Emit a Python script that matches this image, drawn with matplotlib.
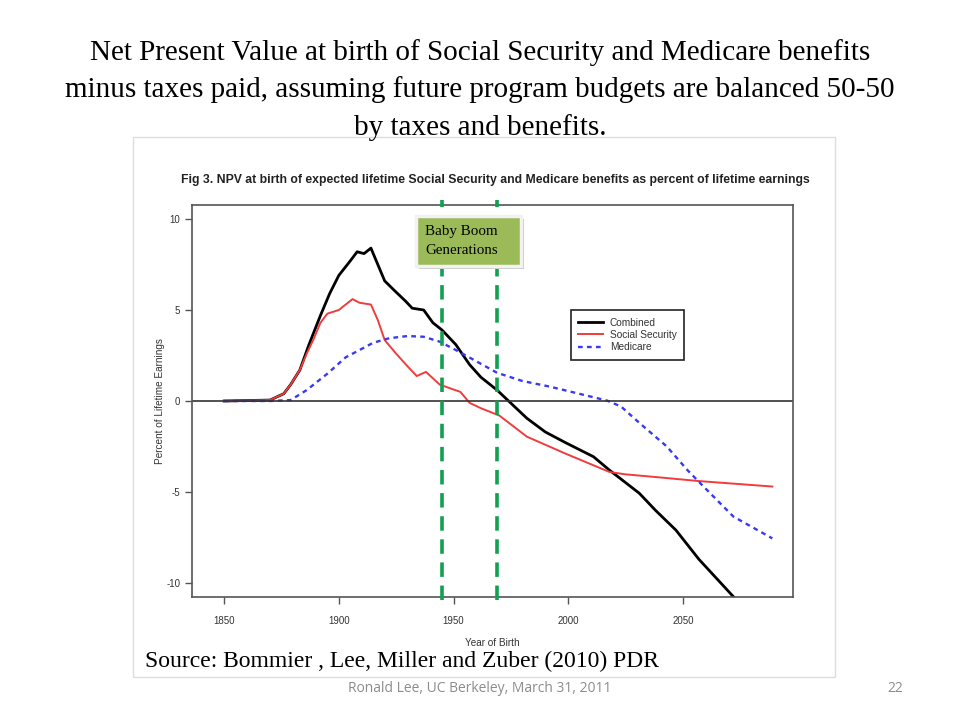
import matplotlib.pyplot as plt
from matplotlib.patches import Rectangle

plt.rcParams['axes.unicode_minus'] = False

# -------- Data --------
combined_years = [1850, 1870, 1876, 1879, 1883, 1887, 1892, 1896, 1900, 1905, 1908, 1911,
                  1914, 1917, 1920, 1924, 1929, 1932, 1937, 1941, 1945, 1951, 1957, 1962,
                  1969, 1974, 1982, 1990, 1999, 2011, 2018, 2031, 2038, 2047, 2057, 2072]
combined_vals = [0.0, 0.05, 0.4, 0.9, 1.7, 3.1, 4.7, 5.9, 6.9, 7.7, 8.2, 8.1,
                 8.4, 7.5, 6.6, 6.1, 5.5, 5.1, 5.0, 4.3, 3.9, 3.1, 2.0, 1.3,
                 0.6, 0.0, -0.95, -1.7, -2.3, -3.06, -3.8, -5.07, -6.0, -7.1, -8.7, -10.75]

ss_years = [1850, 1870, 1876, 1879, 1883, 1886, 1889, 1892, 1895, 1900, 1906, 1909, 1914,
            1917, 1920, 1925, 1930, 1934, 1938, 1944, 1953, 1957, 1962, 1970, 1982,
            1999, 2018, 2025, 2040, 2057, 2089]
ss_vals = [0.0, 0.05, 0.4, 0.9, 1.7, 2.6, 3.4, 4.3, 4.8, 5.0, 5.6, 5.4, 5.3,
           4.45, 3.35, 2.6, 1.9, 1.37, 1.6, 0.9, 0.5, -0.1, -0.4, -0.8, -1.96,
           -2.9, -3.9, -4.03, -4.2, -4.4, -4.7]

med_years = [1850, 1870, 1879, 1886, 1895, 1903, 1915, 1922, 1930, 1937, 1944, 1951,
             1959, 1969, 1980, 1992, 2007, 2017, 2023, 2031, 2043, 2052, 2059, 2072, 2089]
med_vals = [0.0, 0.0, 0.05, 0.6, 1.5, 2.4, 3.2, 3.45, 3.57, 3.53, 3.26, 2.8,
            2.25, 1.55, 1.1, 0.79, 0.33, 0.02, -0.3, -1.2, -2.5, -3.8, -4.7, -6.35, -7.55]

boom_years = [1945, 1969]

x_ticks = [1850, 1900, 1950, 2000, 2050]
y_ticks = [-10, -5, 0, 5, 10]

# -------- Figure --------
fig = plt.figure(figsize=(9.6, 7.2), dpi=100)
fig.patch.set_facecolor('white')

# slide title
fig.text(0.5, 1 - 90 / 720, "Net Present Value at birth of Social Security and Medicare benefits\n"
         "minus taxes paid, assuming future program budgets are balanced 50-50\n"
         "by taxes and benefits.",
         ha='center', va='center', family='Liberation Serif', fontsize=21,
         linespacing=1.5)

# border of the pasted chart image
fig.patches.append(Rectangle((133 / 960, 1 - 677 / 720), 702 / 960, 540 / 720,
                             transform=fig.transFigure, fill=False,
                             edgecolor='#dddddd', linewidth=1))

fig.text(495 / 960, 1 - 180 / 720,
         "Fig 3. NPV at birth of expected lifetime Social Security and Medicare benefits as percent of lifetime earnings",
         ha='center', va='center', fontsize=8.8, fontweight='bold', family='Liberation Sans',
         color='#222222')

ax = fig.add_axes([192 / 960, 1 - 597 / 720, 601 / 960, 392 / 720])
ax.plot(combined_years, combined_vals, color='black', lw=2, label='Combined')
ax.plot(ss_years, ss_vals, color='#f03c3c', lw=1.4, label='Social Security')
ax.plot(med_years, med_vals, color='#3a3af0', lw=1.7, linestyle=(0, (2, 1.8)), label='Medicare')
ax.axhline(0, color='#333333', lw=1.2)

ax.set_xlim(1836, 2098)
ax.set_ylim(-10.77, 10.77)
ax.set_xticks(x_ticks)
ax.set_yticks(y_ticks)
ax.tick_params(labelsize=7, labelcolor='#333333', color='#555555', length=5, width=1)
for lab in ax.get_xticklabels() + ax.get_yticklabels():
    lab.set_family('Liberation Sans')
ax.tick_params(axis='x', pad=9)
for s in ax.spines.values():
    s.set_color('#555555')
    s.set_linewidth(1.2)
ax.set_xlabel("Year of Birth", fontsize=7.2, color='#333333', labelpad=8,
              family='Liberation Sans')
ax.set_ylabel("Percent of Lifetime Earnings", fontsize=7.2, color='#333333', labelpad=1,
              family='Liberation Sans')

leg = ax.legend(loc='upper left', bbox_to_anchor=(0.622, 0.745),
                prop={'family': 'Liberation Sans', 'size': 7.3},
                fancybox=False, framealpha=1, edgecolor='#222222',
                handlelength=2.4, borderpad=0.75, labelspacing=0.22, handletextpad=0.7)
leg.get_frame().set_linewidth(1.2)
for t in leg.get_texts():
    t.set_color('#333333')

# baby boom markers
for yr in boom_years:
    ax.plot([yr, yr], [-10.93, 11.04], color='#10a050', lw=2.6,
            linestyle=(0, (4, 2.4)), clip_on=False, zorder=5)

# Baby Boom box
shadow = Rectangle((419 / 960, 1 - 269 / 720), 105 / 960, 50 / 720,
                   transform=fig.transFigure, facecolor='#c8c8c8', edgecolor='none', zorder=6)
fig.patches.append(shadow)
box = Rectangle((416 / 960, 1 - 266 / 720), 105 / 960, 50 / 720,
                transform=fig.transFigure, facecolor='#9bbb59', edgecolor='#f2f2f2',
                linewidth=2.5, zorder=7)
fig.patches.append(box)
fig.text(425 / 960, 1 - 241 / 720, "Baby Boom\nGenerations", ha='left', va='center',
         family='Liberation Serif', fontsize=10.8, linespacing=1.55, zorder=8)

fig.text(145 / 960, 1 - 661 / 720, "Source: Bommier , Lee, Miller and Zuber (2010) PDR",
         ha='left', va='center', family='Liberation Serif', fontsize=17)

fig.text(480 / 960, 1 - 688 / 720, "Ronald Lee, UC Berkeley, March 31, 2011",
         ha='center', va='center', family='Open Sans', fontsize=10, color='#8c8c8c')
fig.text(895 / 960, 1 - 688 / 720, "22", ha='center', va='center',
         family='Open Sans', fontsize=10, color='#8c8c8c')

fig.savefig('out.png', dpi=100, facecolor='white')
